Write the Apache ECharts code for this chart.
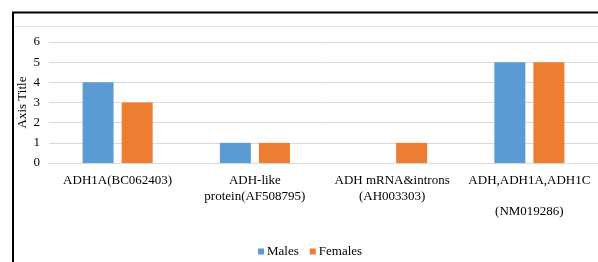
<!DOCTYPE html>
<html>
<head>
<meta charset="utf-8">
<script src="https://cdn.jsdelivr.net/npm/echarts@6/dist/echarts.min.js"></script>
<style>html,body{margin:0;padding:0;background:#fff;}#c{width:598px;height:262px;}</style>
</head>
<body>
<div id="c"></div>
<script>
const categories = ['ADH1A(BC062403)', 'ADH-like\nprotein(AF508795)', 'ADH mRNA&introns\n(AH003303)', 'ADH,ADH1A,ADH1C\n\n(NM019286)'];
const males = [4, 1, 0, 5];
const females = [3, 1, 1, 5];
const yTicks = [0, 1, 2, 3, 4, 5, 6];
const FONT = 'Liberation Serif, Times New Roman, DejaVu Serif, serif';

const chart = echarts.init(document.getElementById('c'), null, {renderer: 'canvas'});
chart.setOption({
  animation: false,
  backgroundColor: '#fff',
  textStyle: {fontFamily: FONT},
  graphic: [
    {type: 'line', shape: {x1: 14, y1: 26.5, x2: 598, y2: 26.5}, style: {stroke: '#e4e4e4', lineWidth: 1}, z: 0},
    {type: 'line', shape: {x1: 12, y1: 12.5, x2: 598, y2: 12.5}, style: {stroke: '#000', lineWidth: 2}},
    {type: 'line', shape: {x1: 13, y1: 12, x2: 13, y2: 262}, style: {stroke: '#000', lineWidth: 2}}
  ],
  grid: {left: 49, right: -7, top: 42, bottom: 99, containLabel: false},
  legend: {
    data: ['Males', 'Females'],
    bottom: -1,
    left: 253,
    icon: 'rect',
    itemWidth: 6,
    itemHeight: 6,
    itemGap: 11,
    textStyle: {fontFamily: FONT, fontSize: 13, color: '#000', padding: [0, 0, 0, -2]}
  },
  xAxis: {
    type: 'category',
    data: categories,
    axisLine: {show: true, lineStyle: {color: '#d9d9d9'}},
    axisTick: {show: false},
    axisLabel: {fontFamily: FONT, fontSize: 13, color: '#000', margin: 10, lineHeight: 15.5, interval: 0}
  },
  yAxis: {
    type: 'value',
    min: 0,
    max: 6,
    interval: 1,
    name: 'Axis Title',
    nameLocation: 'middle',
    nameGap: 20,
    nameMoveOverlap: false,
    nameTextStyle: {fontFamily: FONT, fontSize: 13, color: '#000'},
    axisLine: {show: false},
    axisTick: {show: false},
    axisLabel: {fontFamily: FONT, fontSize: 13, color: '#000', margin: 9,
      formatter: v => yTicks.indexOf(v) >= 0 ? String(v) : ''},
    splitLine: {lineStyle: {color: '#d9d9d9'}}
  },
  series: [
    {name: 'Males', type: 'bar', data: males, barWidth: 31, barGap: '26%', itemStyle: {color: '#5b9bd5'}},
    {name: 'Females', type: 'bar', data: females, barWidth: 31, barGap: '26%', itemStyle: {color: '#ed7d31'}}
  ]
});
</script>
</body>
</html>
